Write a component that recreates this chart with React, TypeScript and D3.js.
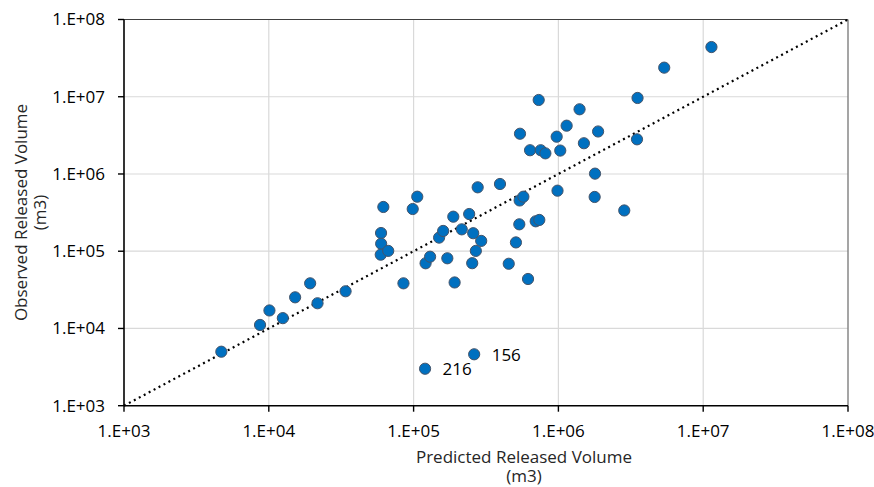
import React from "react";
import * as d3 from "d3";

// Predicted vs observed released volume (m3)
const predicted: number[] = [
  4700, 8700, 10100, 12500, 15200, 19300, 21700, 33900,
  61800, 59600, 59700, 59300, 66800, 85100, 98600, 106000,
  121000, 130000, 150000, 160000, 171000, 188000, 192000, 215000,
  242000, 258000, 277000, 254000, 269000, 293000, 395000, 454000,
  509000, 537000, 540000, 573000, 617000, 697000, 738000, 986000,
  731000, 543000, 637000, 755000, 813000, 973000, 1030000, 1140000,
  1400000, 1500000, 1880000, 1790000, 1780000, 2850000, 3520000, 3490000,
  5380000, 11400000, 262000, 120000,
];
const observed: number[] = [
  5000, 11100, 17100, 13600, 25300, 38400, 21200, 30300,
  374000, 172000, 125000, 90200, 101000, 38400, 352000, 508000,
  69800, 84900, 150000, 183000, 81000, 280000, 39400, 192000,
  303000, 171000, 672000, 70000, 101000, 136000, 742000, 68800,
  130000, 223000, 454000, 508000, 43700, 244000, 254000, 608000,
  9080000, 3320000, 2030000, 2030000, 1850000, 3040000, 2010000, 4220000,
  6880000, 2500000, 3550000, 1010000, 504000, 337000, 9640000, 2810000,
  23800000, 44000000, 4630, 3010,
];
const pointLabels: string[] = predicted.map((_, i) =>
  i === predicted.length - 2 ? "156" : i === predicted.length - 1 ? "216" : ""
);

const tickValues: number[] = [1e3, 1e4, 1e5, 1e6, 1e7, 1e8];
const fmt = (v: number) => `1.E+${String(Math.round(Math.log10(v))).padStart(2, "0")}`;

const W = 874;
const H = 487;
const left = 124;
const right = 848;
const top = 19.5;
const bottom = 405.7;
const font = "'Open Sans', sans-serif";
const fs = 17;

export default function App() {
  const x = d3.scaleLog().domain([1e3, 1e8]).range([left, right]);
  const y = d3.scaleLog().domain([1e3, 1e8]).range([bottom, top]);

  const pts = predicted.map((p, i) => ({ p, o: observed[i], label: pointLabels[i] }));

  return (
    <svg
      width={W}
      height={H}
      style={{ position: "absolute", left: 0, top: 0, background: "#fff" }}
      fontFamily={font}
    >
      {/* grid */}
      {tickValues.slice(1, -1).map((t) => (
        <line key={"gx" + t} x1={x(t)} x2={x(t)} y1={top} y2={bottom} stroke="#d9d9d9" strokeWidth={1.2} />
      ))}
      {tickValues.slice(1, -1).map((t) => (
        <line key={"gy" + t} x1={left} x2={right} y1={y(t)} y2={y(t)} stroke="#d9d9d9" strokeWidth={1.2} />
      ))}
      {/* frame */}
      <line x1={left} x2={right} y1={top} y2={top} stroke="#404040" strokeWidth={1.2} />
      <line x1={right} x2={right} y1={top} y2={bottom} stroke="#7f7f7f" strokeWidth={1.4} />
      <line x1={left} x2={left} y1={top} y2={bottom} stroke="#000" strokeWidth={1.6} />
      <line x1={left} x2={right} y1={bottom} y2={bottom} stroke="#000" strokeWidth={1.6} />

      {/* ticks and labels */}
      {tickValues.map((t) => (
        <g key={"ty" + t}>
          <line x1={left - 6} x2={left} y1={y(t)} y2={y(t)} stroke="#000" strokeWidth={1.4} />
          <text x={105} y={y(t)} dy="0.35em" textAnchor="end" fontSize={fs} fill="#000">
            {fmt(t)}
          </text>
        </g>
      ))}
      {tickValues.map((t) => (
        <g key={"tx" + t}>
          <line x1={x(t)} x2={x(t)} y1={bottom} y2={bottom + 6} stroke="#000" strokeWidth={1.4} />
          <text x={x(t)} y={437} textAnchor="middle" fontSize={fs} fill="#000">
            {fmt(t)}
          </text>
        </g>
      ))}

      {/* 1:1 line */}
      <line
        x1={x(1e3)}
        y1={y(1e3)}
        x2={x(1e8)}
        y2={y(1e8)}
        stroke="#000"
        strokeWidth={2.2}
        strokeDasharray="2 3.6"
      />

      {/* points */}
      {pts.map((d, i) => (
        <circle key={i} cx={x(d.p)} cy={y(d.o)} r={5.6} fill="#0070C0" stroke="#44546A" strokeWidth={1} />
      ))}
      {pts
        .filter((d) => d.label)
        .map((d) => (
          <text key={d.label} x={x(d.p) + 17.5} y={y(d.o) + 6.4} fontSize={fs} fill="#000">
            {d.label}
          </text>
        ))}

      {/* axis titles */}
      <text x={524} y={463} textAnchor="middle" fontSize={fs} fill="#262626">
        Predicted Released Volume
      </text>
      <text x={524} y={482} textAnchor="middle" fontSize={fs} fill="#262626">
        (m3)
      </text>
      <g transform="translate(0,212.5) rotate(-90)">
        <text x={0} y={26.5} textAnchor="middle" fontSize={fs} fill="#262626">
          Observed Released Volume
        </text>
        <text x={0} y={46} textAnchor="middle" fontSize={fs} fill="#262626">
          (m3)
        </text>
      </g>
    </svg>
  );
}
